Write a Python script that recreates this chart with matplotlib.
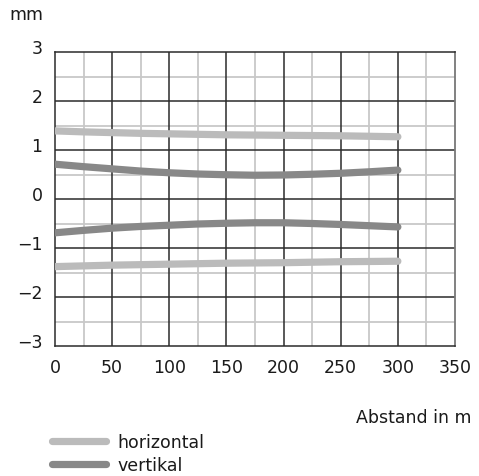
import matplotlib
matplotlib.use("Agg")
import matplotlib.pyplot as plt
import matplotlib.transforms as mtransforms
from matplotlib.lines import Line2D

# Distance (m) and beam half-width (mm)
distance = [0, 25, 50, 75, 100, 125, 150, 175, 200, 225, 250, 275, 300]
horiz_upper = [1.39, 1.37, 1.355, 1.34, 1.33, 1.32, 1.31, 1.305, 1.30, 1.295, 1.29, 1.28, 1.27]
horiz_lower = [-1.38, -1.365, -1.35, -1.34, -1.33, -1.32, -1.31, -1.305, -1.30, -1.29, -1.28, -1.275, -1.27]
vert_upper = [0.71, 0.66, 0.615, 0.57, 0.535, 0.51, 0.495, 0.485, 0.49, 0.505, 0.525, 0.555, 0.59]
vert_lower = [-0.69, -0.64, -0.595, -0.56, -0.535, -0.51, -0.495, -0.485, -0.485, -0.50, -0.52, -0.545, -0.57]

x_ticks = [0, 50, 100, 150, 200, 250, 300, 350]
y_ticks = [-3, -2, -1, 0, 1, 2, 3]
y_labels = ["\u22123", "\u22122", "\u22121", "0", "1", "2", "3"]

c_horiz = "#bbbbbb"
c_vert = "#888888"
major_c = "#2b2b2b"
minor_c = "#c8c8c8"
fs = 12.5

fig = plt.figure(figsize=(4.79, 4.77), dpi=100)
ax = fig.add_axes([55 / 479, 1 - 347 / 477, 400 / 479, 294 / 477])

ax.set_xlim(0, 350)
ax.set_ylim(-3, 3)

# grid: minor lines first, major on top
for xv in range(25, 350, 50):
    ax.axvline(xv, color=minor_c, lw=1.3, zorder=1)
for yv in [-2.5, -1.5, -0.5, 0.5, 1.5, 2.5]:
    ax.axhline(yv, color=minor_c, lw=1.3, zorder=1)
for xv in range(50, 350, 50):
    ax.axvline(xv, color=major_c, lw=1.1, zorder=2)
for yv in [-2, -1, 0, 1, 2]:
    ax.axhline(yv, color=major_c, lw=1.1, zorder=2)

lw = 5.2
for ys, c in [(horiz_upper, c_horiz), (horiz_lower, c_horiz),
              (vert_upper, c_vert), (vert_lower, c_vert)]:
    ax.plot(distance, ys, color=c, lw=lw, solid_capstyle="round",
            solid_joinstyle="round", zorder=3)

for s in ["left", "bottom", "top"]:
    ax.spines[s].set_color(major_c)
    ax.spines[s].set_linewidth(1.1)
ax.spines["right"].set_color("#777777")
ax.spines["right"].set_linewidth(1.3)

ax.set_xticks(x_ticks)
ax.set_xticklabels([str(v) for v in x_ticks], fontsize=fs)
ax.set_yticks(y_ticks)
ax.set_yticklabels(y_labels, fontsize=fs)
ax.tick_params(axis="both", length=0, colors="#1a1a1a")
ax.tick_params(axis="x", pad=8.5)
ax.tick_params(axis="y", pad=9)

offset = mtransforms.ScaledTranslation(0, 6 / 100, fig.dpi_scale_trans)
for lab in ax.get_yticklabels():
    lab.set_transform(lab.get_transform() + offset)

fig.text(26 / 479, 1 - 15 / 477, "mm", fontsize=fs, ha="center", va="center",
         color="#1a1a1a")
fig.text(472 / 479, 1 - 418 / 477, "Abstand in m", fontsize=fs, ha="right",
         va="center", color="#1a1a1a")

handles = [Line2D([], [], color=c_horiz, lw=lw, solid_capstyle="round"),
           Line2D([], [], color=c_vert, lw=lw, solid_capstyle="round")]
fig.legend(handles, ["horizontal", "vertikal"], loc="upper left",
           bbox_to_anchor=(52 / 479, 1 - 434 / 477), frameon=False,
           fontsize=fs, handlelength=3.1, handletextpad=0.65,
           labelspacing=0.3, borderpad=0, borderaxespad=0,
           labelcolor="#1a1a1a")

fig.savefig("out.png", dpi=100)
